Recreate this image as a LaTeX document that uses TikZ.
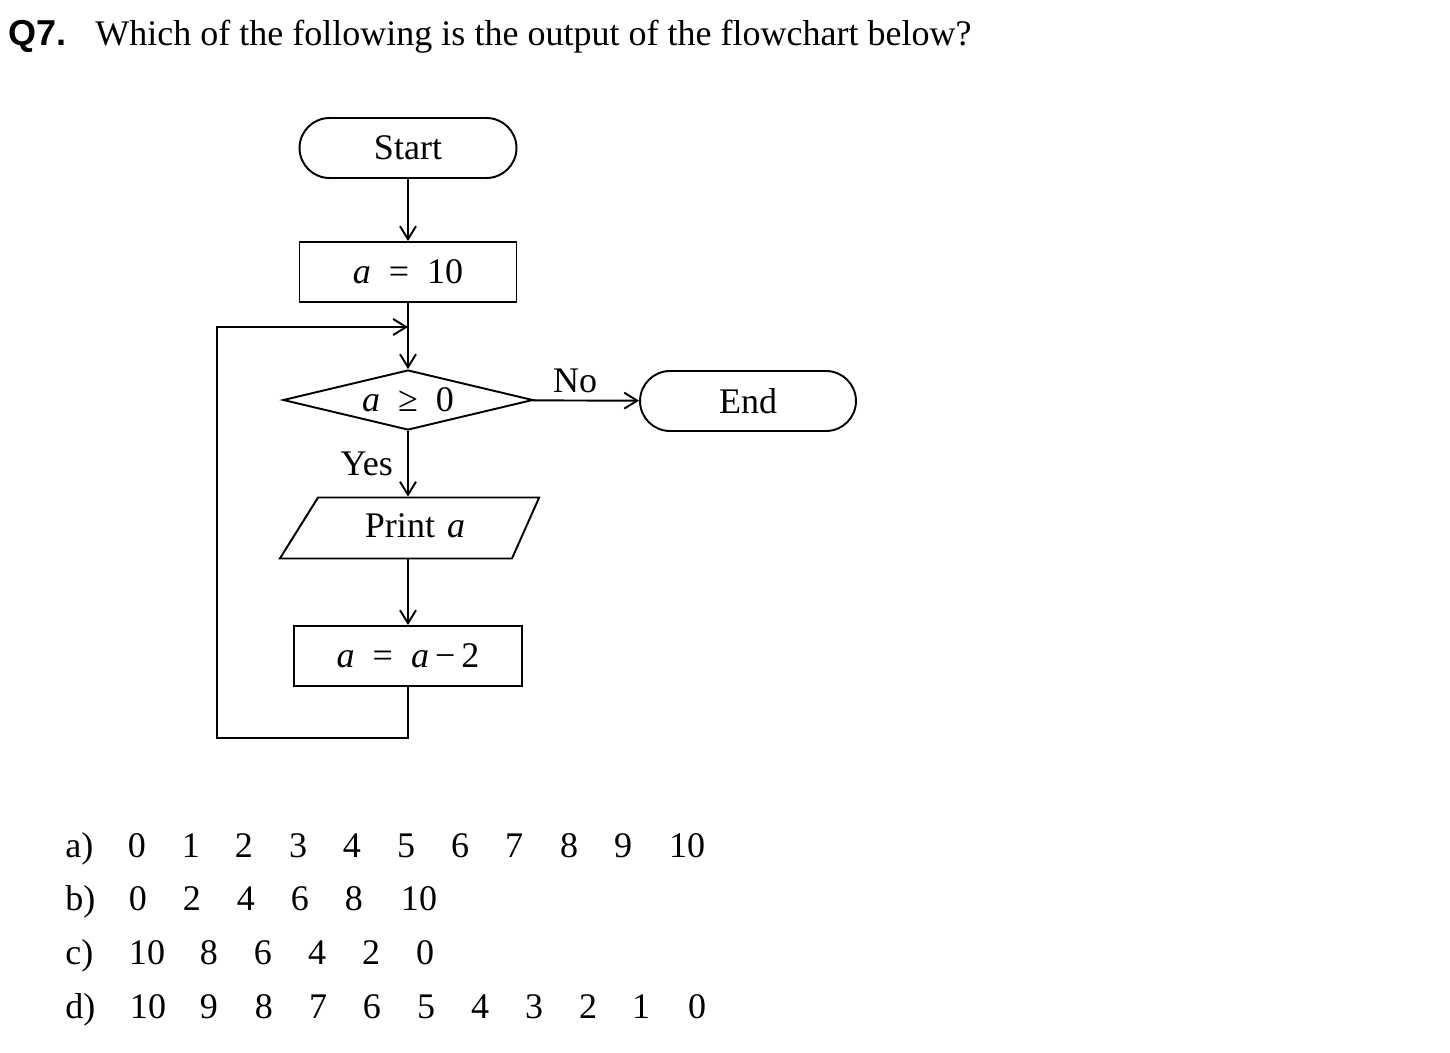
\documentclass[tikz,border=0pt]{standalone}
\usepackage{fontspec}
\setmainfont{Liberation Serif}
\newfontfamily\qfont{Liberation Sans}
\usetikzlibrary{positioning, arrows.meta, shapes.geometric}

\tikzset{
  flowline/.style={line width=1.1pt},
  flowarrow/.style={flowline, -{Straight Barb[length=2.6mm, width=3.2mm, line width=1.1pt]}},
  terminal/.style={draw, line width=1.1pt, rounded corners=0.6cm, minimum width=4.34cm, minimum height=1.2cm},
  procbox/.style={draw, line width=1.1pt, minimum height=1.2cm},
  decision/.style={draw, line width=1.1pt, diamond, aspect=4.17, inner sep=0pt, minimum width=5cm, minimum height=1.2cm},
  iobox/.style={draw, line width=1.1pt, trapezium, trapezium left angle=58, trapezium right angle=114,
    text width=3.88cm, align=center, text height=0.5cm, text depth=0.14cm, inner xsep=0pt, inner ysep=0.29cm},
  answer/.style={inner sep=0pt, anchor=base},
}

\begin{document}
\begin{tikzpicture}[x=0.02cm, y=-0.02cm, every node/.style={font=\fontsize{20.5}{24}\selectfont}]
  \useasboundingbox (0,0) rectangle (1450,1052);

  % question
  \node[anchor=base west, inner sep=0pt, font=\qfont\bfseries\fontsize{20.5}{24}\selectfont] (qnum) at (8,45) {Q7.};
  \node[anchor=base west, inner sep=0pt] (question) at (95,45) {Which of the following is the output of the flowchart below?};

  % flowchart
  \node[terminal] (start) at (408,148) {Start};
  \node[procbox, minimum width=4.34cm] (init) at (408,272) {\textit{a}\enspace=\enspace10};
  \node[decision] (test) at (408,400) {\textit{a}\enspace≥\enspace0};
  \node[terminal, minimum width=4.32cm] (stop) at (748,401) {End};
  \node[iobox] (out) at (415,528) {Print \textit{a}};
  \node[procbox, minimum width=4.56cm] (dec) at (408,656) {\textit{a}\enspace=\enspace\textit{a}\,−\,2};

  \coordinate (join) at (408,327);
  \coordinate (back) at (217,738);

  \draw[flowarrow] (start) -- (init);
  \draw[flowarrow] (init) -- (test);
  \draw[flowarrow] (test) -- node[pos=0.4, above, inner sep=4pt] (nolabel) {No} (stop);
  \draw[flowarrow] (test) -- node[left, inner sep=8pt] (yeslabel) {Yes} (test.south |- out.north);
  \draw[flowarrow] (test.south |- out.south) -- (dec);
  \draw[flowarrow] (dec.south) |- (back) |- (join);

  % choices
  \node[answer, anchor=base west] (opta) at (65,857) {a)};
  \node[answer, anchor=base west] (optb) at (65,910) {b)};
  \node[answer, anchor=base west] (optc) at (65,964) {c)};
  \node[answer, anchor=base west] (optd) at (65,1018) {d)};
  \foreach \x/\v in {137/0,191/1,244/2,298/3,352/4,406/5,460/6,514/7,569/8,623/9,687/10}
    \node[answer] (a-\x) at (\x,857) {\v};
  \foreach \x/\v in {138/0,192/2,246/4,300/6,354/8,419/10}
    \node[answer] (b-\x) at (\x,910) {\v};
  \foreach \x/\v in {147/10,209/8,263/6,317/4,371/2,425/0}
    \node[answer] (c-\x) at (\x,964) {\v};
  \foreach \x/\v in {148/10,209/9,264/8,318/7,372/6,426/5,480/4,534/3,588/2,641/1,697/0}
    \node[answer] (d-\x) at (\x,1018) {\v};
\end{tikzpicture}
\end{document}
